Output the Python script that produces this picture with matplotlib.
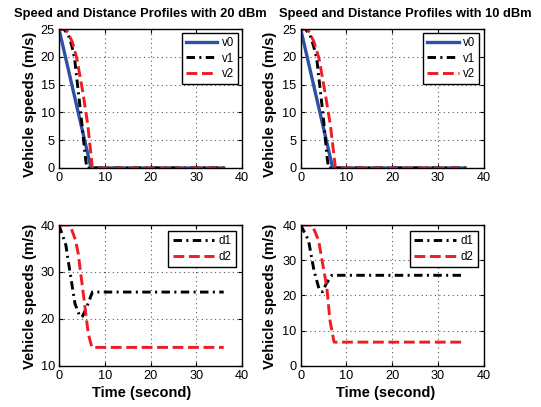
import matplotlib
matplotlib.use("Agg")
import matplotlib.pyplot as plt

# ---------------- data ----------------
titles = ["Speed and Distance Profiles with 20 dBm", "Speed and Distance Profiles with 10 dBm"]
ylabel = "Vehicle speeds (m/s)"
xlabel = "Time (second)"
xticks = [0, 10, 20, 30, 40]

# top-left (20 dBm) speeds
tl_v0_t = [0, 7.0, 36]
tl_v0 = [25, 0, 0]
tl_v1_t = [0, 1.0, 2.0, 2.8, 3.4, 4.8, 5.8, 6.1, 36]
tl_v1 = [25, 25, 24, 22, 19.7, 9.5, 1.7, 0, 0]
tl_v2_t = [0, 1.5, 2.9, 3.9, 5.2, 6.3, 7.3, 36]
tl_v2 = [25, 25, 22.7, 19.7, 13.7, 7.7, 0, 0]

# top-right (10 dBm) speeds
tr_v0_t = [0, 7.0, 36]
tr_v0 = [25, 0, 0]
tr_v1_t = [0, 1.0, 2.0, 2.8, 3.5, 4.9, 5.8, 6.1, 36]
tr_v1 = [25, 25, 24, 22, 19.7, 9.5, 1.7, 0, 0]
tr_v2_t = [0, 1.5, 2.9, 4.0, 5.3, 6.5, 7.6, 36]
tr_v2 = [25, 25, 22.7, 19.7, 13.7, 7.7, 0, 0]

# bottom-left (20 dBm) distances
bl_d1_t = [0, 1.5, 2.0, 2.8, 3.5, 4.6, 5.2, 6.1, 7.3, 36]
bl_d1 = [40, 35.7, 32.5, 27.5, 23.2, 20.4, 20.6, 22.6, 25.7, 25.7]
bl_d2_t = [0, 2.4, 3.6, 4.2, 5.5, 6.4, 7.2, 36]
bl_d2 = [40, 40, 36.8, 33.9, 23.9, 16.8, 13.9, 13.9]

# bottom-right (10 dBm) distances
br_d1_t = [0, 1.7, 2.9, 4.1, 4.8, 5.5, 6.8, 36]
br_d1 = [40, 35.7, 27.1, 21.4, 21.0, 23.1, 25.7, 25.7]
br_d2_t = [0, 2.5, 3.9, 5.7, 6.4, 7.3, 36]
br_d2 = [40, 40, 35.7, 22.4, 12.9, 6.7, 6.7]

# ---------------- style ----------------
plt.rcParams["font.family"] = ["Liberation Sans", "DejaVu Sans"]
BLUE = "#2f51a5"
RED = "#ee1c25"
BLACK = "#000000"
LW = 2.1
DASHDOT = (2.9, 1.5, 0.7, 1.5)

W, H = 541, 407
fig = plt.figure(figsize=(W / 100, H / 100), dpi=100)


def px_axes(x0, x1, ytop, ybot):
    return [x0 / W, 1 - ybot / H, (x1 - x0) / W, (ybot - ytop) / H]


ax_tl = fig.add_axes(px_axes(59, 242, 29, 168))
ax_tr = fig.add_axes(px_axes(300.7, 483.5, 29, 168))
ax_bl = fig.add_axes(px_axes(59, 242, 225, 365.7))
ax_br = fig.add_axes(px_axes(300.7, 483.5, 225, 365.7))


def style(ax, ylim, yticks):
    ax.set_xlim(0, 40)
    ax.set_ylim(*ylim)
    ax.set_xticks(xticks)
    ax.set_yticks(yticks)
    ax.tick_params(direction="in", length=3, width=0.8, labelsize=9.2, pad=3,
                   top=True, right=True)
    ax.grid(True, ls=(0, (1, 3)), color="0.35", lw=0.8)
    for s in ax.spines.values():
        s.set_linewidth(1.0)
        s.set_color("black")


def speed_plot(ax, t0, v0, t1, v1, t2, v2):
    ax.plot(t0, v0, color=BLUE, lw=LW + 0.3, label="v0")
    ax.plot(t1, v1, color=BLACK, lw=LW, dashes=DASHDOT, label="v1")
    ax.plot(t2, v2, color=RED, lw=LW, ls="--", label="v2")
    style(ax, (0, 25), [0, 5, 10, 15, 20, 25])
    leg = ax.legend(loc="upper right", fontsize=8.3, handlelength=2.7,
                    labelspacing=0.3, borderaxespad=0.35, fancybox=False,
                    framealpha=1, edgecolor="black", handletextpad=0.4,
                    borderpad=0.35)
    leg.get_frame().set_linewidth(1.0)


def dist_plot(ax, t1, d1, t2, d2, ylim, yticks):
    ax.plot(t1, d1, color=BLACK, lw=LW, dashes=DASHDOT, label="d1")
    ax.plot(t2, d2, color=RED, lw=LW, ls="--", label="d2")
    style(ax, ylim, yticks)
    leg = ax.legend(loc="upper right", fontsize=8.3, handlelength=3.6,
                    labelspacing=0.3, borderaxespad=0.5, fancybox=False,
                    framealpha=1, edgecolor="black", handletextpad=0.4,
                    borderpad=0.4)
    leg.get_frame().set_linewidth(1.0)


speed_plot(ax_tl, tl_v0_t, tl_v0, tl_v1_t, tl_v1, tl_v2_t, tl_v2)
speed_plot(ax_tr, tr_v0_t, tr_v0, tr_v1_t, tr_v1, tr_v2_t, tr_v2)
dist_plot(ax_bl, bl_d1_t, bl_d1, bl_d2_t, bl_d2, (10, 40), [10, 20, 30, 40])
dist_plot(ax_br, br_d1_t, br_d1, br_d2_t, br_d2, (0, 40), [0, 10, 20, 30, 40])

ax_tl.set_title(titles[0], fontweight="bold", fontsize=9.3, x=0.443, pad=9)
ax_tr.set_title(titles[1], fontweight="bold", fontsize=9.3, x=0.57, pad=9)

for ax, lx, ly in [(ax_tl, -0.12, 0.46), (ax_tr, -0.13, 0.46),
                   (ax_bl, -0.12, 0.49), (ax_br, -0.13, 0.49)]:
    ax.set_ylabel(ylabel, fontweight="bold", fontsize=10.6)
    ax.yaxis.set_label_coords(lx, ly)

for ax, lx in [(ax_bl, 0.454), (ax_br, 0.466)]:
    ax.set_xlabel(xlabel, fontweight="bold", fontsize=10.5)
    ax.xaxis.set_label_coords(lx, -0.144)

fig.savefig("out.png", dpi=100)
